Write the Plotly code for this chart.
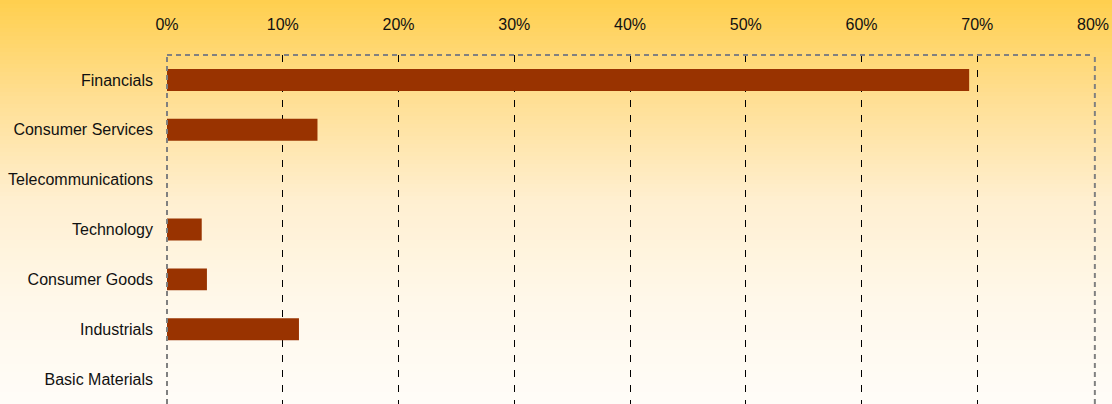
import plotly.graph_objects as go

# Sector weights (share of portfolio)
sectors = ["Financials", "Consumer Services", "Telecommunications", "Technology",
           "Consumer Goods", "Industrials", "Basic Materials"]
weights = [0.693, 0.130, 0.0, 0.030, 0.0345, 0.114, 0.0]
tick_vals = [0, 0.1, 0.2, 0.3, 0.4, 0.5, 0.6, 0.7, 0.8]

W, H = 1112, 404
ML, MR, MT, MB = 167, 19, 55, 0
PW, PH = W - ML - MR, H - MT - MB

FONT = "Liberation Sans, Arial, sans-serif"
TXT = dict(family=FONT, size=16, color="#111111")

fig = go.Figure(go.Bar(
    x=weights, y=sectors, orientation="h",
    marker=dict(color="#993300", line=dict(width=0)),
))

# Vertical background gradient (gold at the top fading to near white)
stops = [(0, (255, 207, 78)), (100, (255, 223, 148)), (200, (255, 239, 208)),
         (300, (255, 248, 234)), (404, (255, 252, 248))]


def colour_at(py):
    for (y0, c0), (y1, c1) in zip(stops, stops[1:]):
        if y0 <= py <= y1:
            t = (py - y0) / (y1 - y0)
            return "rgb(%d,%d,%d)" % tuple(round(a + (b - a) * t) for a, b in zip(c0, c1))
    return "rgb(%d,%d,%d)" % stops[-1][1]


def px_to_paper_y(py):
    return (H - MB - py) / PH


shapes = []
step = 4
for py in range(0, H, step):
    shapes.append(dict(
        type="rect", xref="paper", yref="paper", layer="below",
        x0=-ML / PW - 0.01, x1=1 + MR / PW + 0.01,
        y0=px_to_paper_y(py + step + 0.5), y1=px_to_paper_y(py),
        fillcolor=colour_at(py + step / 2), line=dict(width=0),
    ))

# Dashed grey frame around the plot area (top, left, right)
frame = dict(color="#808080", width=2, dash="5px,4px")
shapes += [
    dict(type="line", xref="paper", yref="paper", x0=0, x1=1, y0=1, y1=1, line=frame),
    dict(type="line", xref="paper", yref="paper", x0=0, x1=0, y0=0, y1=1, line=frame),
    dict(type="line", xref="paper", yref="paper", x0=1.002, x1=1.002, y0=0, y1=1, line=frame),
]

fig.update_layout(
    width=W, height=H,
    margin=dict(l=ML, r=MR, t=MT, b=MB, pad=0, autoexpand=False),
    paper_bgcolor="rgba(0,0,0,0)", plot_bgcolor="rgba(0,0,0,0)",
    bargap=0.56, showlegend=False,
    font=TXT,
    shapes=shapes,
    xaxis=dict(
        side="top", range=[0, 0.8], tickvals=tick_vals, tickformat=".0%",
        showgrid=True, gridcolor="#000000", gridwidth=1, griddash="7px,8px",
        zeroline=False, showline=False, ticks="", ticklabelstandoff=21,
        tickfont=TXT, automargin=False,
    ),
    yaxis=dict(
        categoryorder="array", categoryarray=sectors, autorange="reversed",
        showgrid=False, zeroline=False, showline=False, ticks="",
        ticklabelstandoff=13, tickfont=TXT, automargin=False,
    ),
)

fig.write_html("out.html")
